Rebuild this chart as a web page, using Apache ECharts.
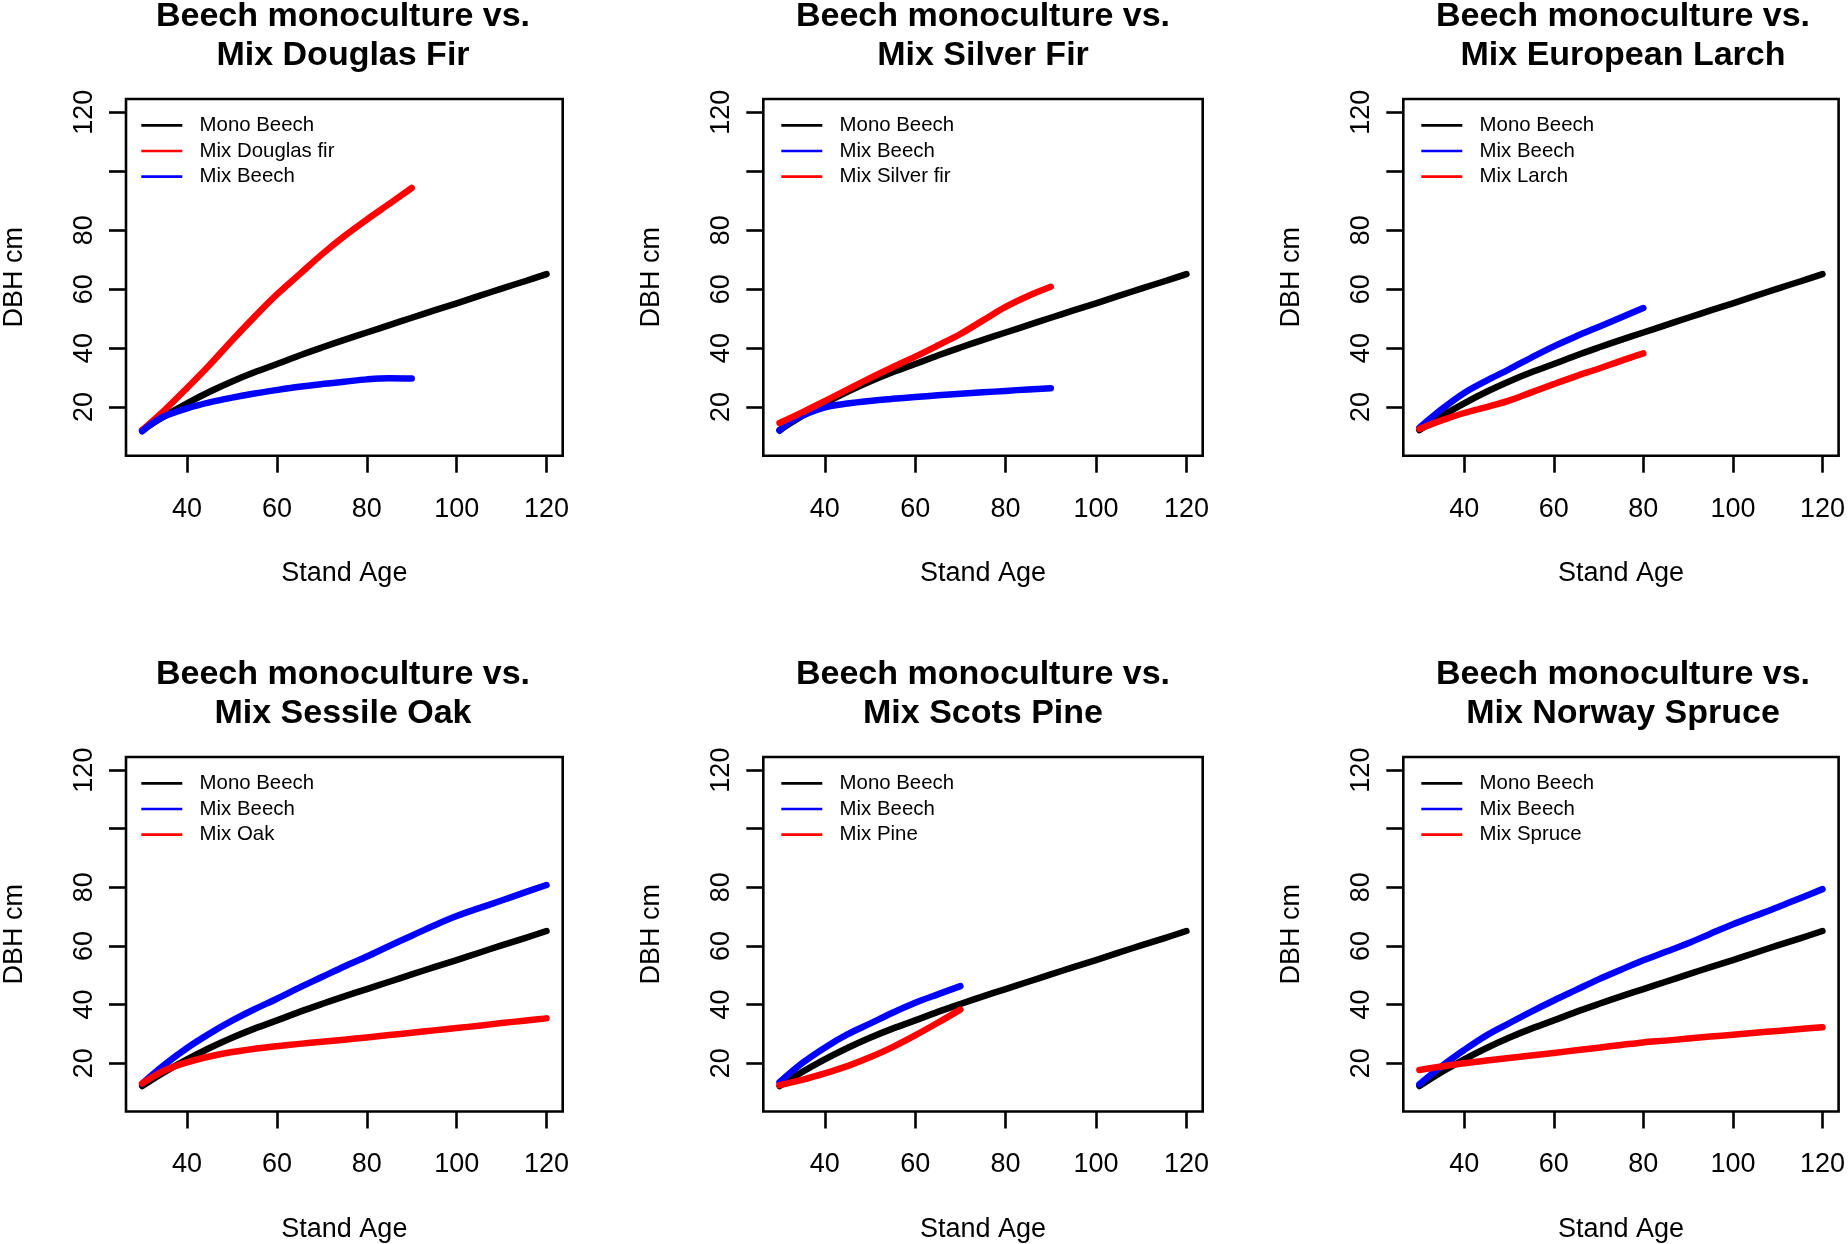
<!DOCTYPE html>
<html>
<head>
<meta charset="utf-8">
<script src="https://cdn.jsdelivr.net/npm/echarts@6/dist/echarts.min.js"></script>
<style>
html,body{margin:0;padding:0;background:#fff;}
#chart{width:1848px;height:1244px;}
</style>
</head>
<body>
<div id="chart"></div>
<script>
// ---- data ----
const ageMono = [30,35,40,45,50,55,60,65,70,75,80,85,90,95,100,105,110,115,120];
const dbhMono = [12.2,17,21.3,25.2,28.7,31.8,34.6,37.5,40.2,42.8,45.3,47.8,50.3,52.8,55.2,57.7,60.2,62.6,65.1];

// Panel 1: Douglas fir
const ageDouglas = [30,35,40,45,50,55,60,65,70,75,80,85,90];
const dbhDouglas = [12.2,19,26.5,34.3,42.6,50.6,58.2,65,71.8,78,83.6,88.9,94.3];
const ageMixBeechDF = [30,32,35,40,45,50,55,60,65,70,75,80,85,90];
const dbhMixBeechDF = [11.8,14.2,16.9,19.6,21.6,23.2,24.6,25.8,26.9,27.8,28.6,29.4,29.8,29.7];

// Panel 2: Silver fir
const ageMixBeechSF = [30,33,35,40,45,50,55,60,65,70,75,80,85,90];
const dbhMixBeechSF = [12,15.5,17.1,19.9,21.2,22.1,22.8,23.4,24,24.5,25,25.5,26,26.4];
const ageSilver = [30,35,40,45,50,55,60,65,70,75,80,85,90];
const dbhSilver = [14.6,18.2,22,25.9,29.8,33.5,37.1,40.9,44.8,49.4,54,57.7,60.8];

// Panel 3: European larch
const ageLarch = [30,35,40,45,50,55,60,65,70,75,80];
const dbhMixBeechEL = [13,19.3,24.8,29,32.8,36.8,40.6,44,47.2,50.4,53.6];
const dbhLarch = [12.6,15.5,18,20,22.2,25,27.8,30.5,33,35.7,38.2];

// Panel 4: Sessile oak
const ageOak = [30,35,40,45,50,55,60,65,70,75,80,85,90,95,100,105,110,115,120];
const dbhMixBeechSO = [13,19.5,25.2,30.1,34.5,38.4,42,45.8,49.4,53,56.4,60,63.5,67,70.2,72.9,75.5,78.2,80.8];
const dbhOak = [13.1,17.5,20.3,22.3,23.8,24.9,25.8,26.6,27.3,28,28.8,29.6,30.4,31.2,32,32.8,33.7,34.5,35.3];

// Panel 5: Scots pine
const agePine = [30,35,40,45,50,55,60,65,70];
const dbhMixBeechSP = [13.5,20,25.3,29.8,33.5,37.2,40.6,43.5,46.3];
const dbhPine = [12.5,14.3,16.5,19,22,25.5,29.5,33.8,38.3];

// Panel 6: Norway spruce
const ageSpruce = [30,35,40,45,50,55,60,65,70,75,80,85,90,95,100,105,110,115,120];
const dbhMixBeechNS = [12.8,19,24.5,29.5,33.6,37.6,41.4,45,48.6,51.9,55.1,58,60.9,64.2,67.4,70.3,73.2,76.3,79.4];
const dbhSpruce = [17.7,18.9,20,20.9,21.8,22.6,23.5,24.4,25.3,26.2,27.1,27.7,28.4,29.1,29.7,30.4,31,31.7,32.3];

const xTicks = [40,60,80,100,120];
const yTicks = [20,40,60,80,100,120];
const yLabels = [20,40,60,80,120];
const xName = 'Stand Age';
const yName = 'DBH cm';

const titles = [
  'Beech monoculture vs.\nMix Douglas Fir',
  'Beech monoculture vs.\nMix Silver Fir',
  'Beech monoculture vs.\nMix European Larch',
  'Beech monoculture vs.\nMix Sessile Oak',
  'Beech monoculture vs.\nMix Scots Pine',
  'Beech monoculture vs.\nMix Norway Spruce'
];

const BLACK = '#000000', RED = '#ff0000', BLUE = '#0000ff';
const monoS = {name:'Mono Beech', ages:ageMono, vals:dbhMono, color:BLACK};
const panels = [
  [monoS, {name:'Mix Douglas fir', ages:ageDouglas, vals:dbhDouglas, color:RED}, {name:'Mix Beech', ages:ageMixBeechDF, vals:dbhMixBeechDF, color:BLUE}],
  [monoS, {name:'Mix Beech', ages:ageMixBeechSF, vals:dbhMixBeechSF, color:BLUE}, {name:'Mix Silver fir', ages:ageSilver, vals:dbhSilver, color:RED}],
  [monoS, {name:'Mix Beech', ages:ageLarch, vals:dbhMixBeechEL, color:BLUE}, {name:'Mix Larch', ages:ageLarch, vals:dbhLarch, color:RED}],
  [monoS, {name:'Mix Beech', ages:ageOak, vals:dbhMixBeechSO, color:BLUE}, {name:'Mix Oak', ages:ageOak, vals:dbhOak, color:RED}],
  [monoS, {name:'Mix Beech', ages:agePine, vals:dbhMixBeechSP, color:BLUE}, {name:'Mix Pine', ages:agePine, vals:dbhPine, color:RED}],
  [monoS, {name:'Mix Beech', ages:ageSpruce, vals:dbhMixBeechNS, color:BLUE}, {name:'Mix Spruce', ages:ageSpruce, vals:dbhSpruce, color:RED}]
];

// ---- layout ----
const FONT = '"Liberation Sans", Arial, Helvetica, sans-serif';
const GW = 439.4, GH = 356.7;
const colLeft = [123.3, 763.3, 1403.3];
const rowTop = [99, 757];

const option = {
  animation: false,
  backgroundColor: '#ffffff',
  textStyle: {fontFamily: FONT},
  title: [], grid: [], xAxis: [], yAxis: [], legend: [], series: []
};

panels.forEach((ser, i) => {
  const c = i % 3, r = Math.floor(i / 3);
  const left = colLeft[c], top = rowTop[r];
  option.title.push({
    text: titles[i], left: left + GW / 2, top: top - 102, textAlign: 'center', padding: 0,
    textStyle: {fontSize: 34, fontWeight: 'bold', lineHeight: 39, color: '#000', fontFamily: FONT}
  });
  option.grid.push({
    left: left, top: top, width: GW, height: GH, show: true,
    borderColor: '#000', borderWidth: 2.6, backgroundColor: 'transparent'
  });
  option.xAxis.push({
    type: 'value', gridIndex: i, min: 26.4, max: 123.6,
    name: xName, nameLocation: 'middle', nameGap: 104.5,
    nameTextStyle: {fontSize: 27, color: '#000', fontFamily: FONT},
    axisLine: {show: false},
    axisTick: {show: true, customValues: xTicks, length: 17, inside: false, lineStyle: {color: '#000', width: 2.6}},
    axisLabel: {customValues: xTicks, fontSize: 27, color: '#000', margin: 40, fontFamily: FONT},
    splitLine: {show: false}
  });
  option.yAxis.push({
    type: 'value', gridIndex: i, min: 3.52, max: 124.48,
    name: yName, nameLocation: 'middle', nameGap: 98, nameRotate: 90,
    nameTextStyle: {fontSize: 27, color: '#000', fontFamily: FONT},
    axisLine: {show: false},
    axisTick: {show: true, customValues: yTicks, length: 17, inside: false, lineStyle: {color: '#000', width: 2.6}},
    axisLabel: {customValues: yLabels, rotate: 90, fontSize: 27, color: '#000', margin: 28, fontFamily: FONT},
    splitLine: {show: false}
  });
  option.legend.push({
    orient: 'vertical', left: left + 18, top: top + 15.3, padding: 0,
    itemWidth: 41, itemHeight: 2.7, itemGap: 3.7, icon: 'rect',
    selectedMode: false,
    data: ser.map(s => s.name),
    textStyle: {fontSize: 20.4, lineHeight: 22, color: '#000', padding: [0, 0, 0, 12.3], fontFamily: FONT}
  });
  ser.forEach(s => {
    option.series.push({
      type: 'line', name: s.name, xAxisIndex: i, yAxisIndex: i,
      data: s.ages.map((a, k) => [a, s.vals[k]]),
      showSymbol: false, smooth: 0.35, color: s.color,
      lineStyle: {color: s.color, width: 6.5, cap: 'round', join: 'round'},
      itemStyle: {color: s.color},
      clip: false
    });
  });
});

const chart = echarts.init(document.getElementById('chart'), null, {renderer: 'canvas'});
chart.setOption(option);
</script>
</body>
</html>
